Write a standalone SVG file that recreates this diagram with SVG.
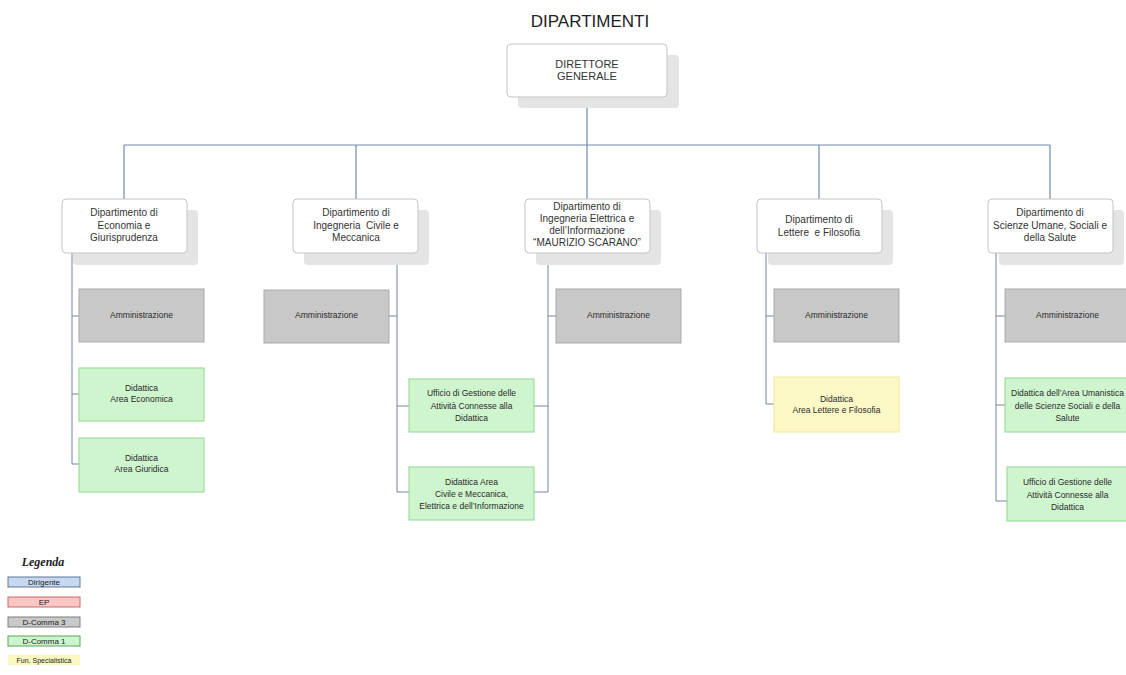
<svg xmlns="http://www.w3.org/2000/svg" width="1126" height="675" viewBox="0 0 1126 675">
<style>
text{font-family:"Liberation Sans",Arial,sans-serif;fill:#222;text-anchor:middle}
.title{font-size:17px}
.dir{font-size:11px;fill:#333}
.dep{font-size:10px;fill:#333}
.sm{font-size:8.5px;fill:#2a2a2a}
.lg{font-size:8px;fill:#222}
.shadow{fill:#e4e4e4}
.card{fill:#fff;stroke:#c4c4c4;stroke-width:1}
.gray{fill:#c8c8c8;stroke:#a9a9a9;stroke-width:1}
.green{fill:#cff5cf;stroke:#8fd88f;stroke-width:1}
.yellow{fill:#fcf9c6;stroke:#efe795;stroke-width:1}
.conn{fill:none;stroke:#6f89b2;stroke-width:1.2}
.sub{fill:none;stroke:#7584a3;stroke-width:1}
</style>
<rect width="1126" height="675" fill="#fff"/>
<text class="title" x="590" y="27">DIPARTIMENTI</text>

<g id="connectors">
  <path class="conn" d="M587 97V145M124 145H1050M124 145V199M356 145V199M587 145V199M819 145V199M1050 145V199"/>
  <path class="sub" d="M72 253V464M72 316H79M72 394H79M72 464H79"/>
  <path class="sub" d="M397 253V492M389 316H397M397 406H409M397 492H409"/>
  <path class="sub" d="M548 253V492M548 316H556M534 406H548M534 492H548"/>
  <path class="sub" d="M766 253V404M766 316H774M766 404H774"/>
  <path class="sub" d="M996 253V501M996 316H1005M996 405H1005M996 501H1007"/>
</g>

<g id="direttore">
  <rect class="shadow" x="518" y="55" width="161" height="53" rx="4"/>
  <rect class="card" x="507" y="44" width="160" height="53" rx="4"/>
  <text class="dir" x="587" y="68">DIRETTORE</text>
  <text class="dir" x="587" y="80">GENERALE</text>
</g>

<g id="dep1">
  <rect class="shadow" x="73" y="210" width="125" height="55" rx="4"/>
  <rect class="card" x="62" y="199" width="125" height="54" rx="4"/>
  <text class="dep" x="124" y="216">Dipartimento di</text>
  <text class="dep" x="124" y="228.5">Economia e</text>
  <text class="dep" x="124" y="241">Giurisprudenza</text>
</g>
<g id="dep2">
  <rect class="shadow" x="304" y="210" width="125" height="55" rx="4"/>
  <rect class="card" x="293" y="199" width="125" height="54" rx="4"/>
  <text class="dep" x="356" y="216">Dipartimento di</text>
  <text class="dep" x="356" y="228.5" xml:space="preserve">Ingegneria  Civile e</text>
  <text class="dep" x="356" y="241">Meccanica</text>
</g>
<g id="dep3">
  <rect class="shadow" x="536" y="210" width="125" height="55" rx="4"/>
  <rect class="card" x="525" y="199" width="125" height="54" rx="4"/>
  <text class="dep" x="587" y="210">Dipartimento di</text>
  <text class="dep" x="587" y="222">Ingegneria Elettrica e</text>
  <text class="dep" x="587" y="234">dell’Informazione</text>
  <text class="dep" x="587" y="246">“MAURIZIO SCARANO”</text>
</g>
<g id="dep4">
  <rect class="shadow" x="768" y="210" width="125" height="55" rx="4"/>
  <rect class="card" x="757" y="199" width="125" height="54" rx="4"/>
  <text class="dep" x="819" y="223">Dipartimento di</text>
  <text class="dep" x="819" y="236" xml:space="preserve">Lettere  e Filosofia</text>
</g>
<g id="dep5">
  <rect class="shadow" x="999" y="210" width="125" height="55" rx="4"/>
  <rect class="card" x="988" y="199" width="125" height="54" rx="4"/>
  <text class="dep" x="1050" y="216">Dipartimento di</text>
  <text class="dep" x="1050" y="228.5">Scienze Umane, Sociali e</text>
  <text class="dep" x="1050" y="241">della Salute</text>
</g>

<g id="amm1">
  <rect class="gray" x="79" y="289" width="125" height="53"/>
  <text class="sm" x="141.5" y="318">Amministrazione</text>
</g>
<g id="did-eco">
  <rect class="green" x="79" y="368" width="125" height="53"/>
  <text class="sm" x="141.5" y="391">Didattica</text>
  <text class="sm" x="141.5" y="402">Area Economica</text>
</g>
<g id="did-giu">
  <rect class="green" x="79" y="438" width="125" height="54"/>
  <text class="sm" x="141.5" y="461">Didattica</text>
  <text class="sm" x="141.5" y="472">Area Giuridica</text>
</g>

<g id="amm2">
  <rect class="gray" x="264" y="290" width="125" height="53"/>
  <text class="sm" x="326.5" y="318">Amministrazione</text>
</g>
<g id="ufficio-ing">
  <rect class="green" x="409" y="379" width="125" height="53"/>
  <text class="sm" x="471.5" y="396">Ufficio di Gestione delle</text>
  <text class="sm" x="471.5" y="408.5">Attività Connesse alla</text>
  <text class="sm" x="471.5" y="421">Didattica</text>
</g>
<g id="did-ing">
  <rect class="green" x="409" y="467" width="125" height="53"/>
  <text class="sm" x="471.5" y="485">Didattica Area</text>
  <text class="sm" x="471.5" y="497">Civile e Meccanica,</text>
  <text class="sm" x="471.5" y="509">Elettrica e dell’Informazione</text>
</g>
<g id="amm3">
  <rect class="gray" x="556" y="289" width="125" height="54"/>
  <text class="sm" x="618.5" y="318">Amministrazione</text>
</g>

<g id="amm4">
  <rect class="gray" x="774" y="289" width="125" height="53"/>
  <text class="sm" x="836.5" y="318">Amministrazione</text>
</g>
<g id="did-lett">
  <rect class="yellow" x="774" y="377" width="125" height="55"/>
  <text class="sm" x="836.5" y="402">Didattica</text>
  <text class="sm" x="836.5" y="413">Area Lettere e Filosofia</text>
</g>

<g id="amm5">
  <rect class="gray" x="1005" y="289" width="125" height="53"/>
  <text class="sm" x="1067.5" y="318">Amministrazione</text>
</g>
<g id="did-uman">
  <rect class="green" x="1005" y="378" width="125" height="54"/>
  <text class="sm" x="1067.5" y="396">Didattica dell’Area Umanistica</text>
  <text class="sm" x="1067.5" y="408.5">delle Scienze Sociali e della</text>
  <text class="sm" x="1067.5" y="421">Salute</text>
</g>
<g id="ufficio-uman">
  <rect class="green" x="1007" y="467" width="125" height="54"/>
  <text class="sm" x="1067.5" y="485">Ufficio di Gestione delle</text>
  <text class="sm" x="1067.5" y="497.5">Attività Connesse alla</text>
  <text class="sm" x="1067.5" y="510">Didattica</text>
</g>

<g id="legenda">
  <text x="43" y="566" style="font-family:'Liberation Serif',serif;font-style:italic;font-weight:bold;font-size:12px">Legenda</text>
  <rect x="8" y="577" width="72" height="10" fill="#c6d9f1" stroke="#5f7799"/>
  <text class="lg" x="44" y="585">Dirigente</text>
  <rect x="8" y="597" width="72" height="10" fill="#f9c6c6" stroke="#c86a6a"/>
  <text class="lg" x="44" y="605">EP</text>
  <rect x="8" y="617" width="72" height="10" fill="#c9c9c9" stroke="#7d7d7d"/>
  <text class="lg" x="44" y="625">D-Comma 3</text>
  <rect x="8" y="636" width="72" height="10" fill="#cdf5cd" stroke="#5aa55a"/>
  <text class="lg" x="44" y="644">D-Comma 1</text>
  <rect x="8" y="655" width="72" height="10" fill="#fcf9c0"/>
  <text class="lg" x="44" y="663" style="font-size:7px">Fun. Specialistica</text>
</g>
</svg>
